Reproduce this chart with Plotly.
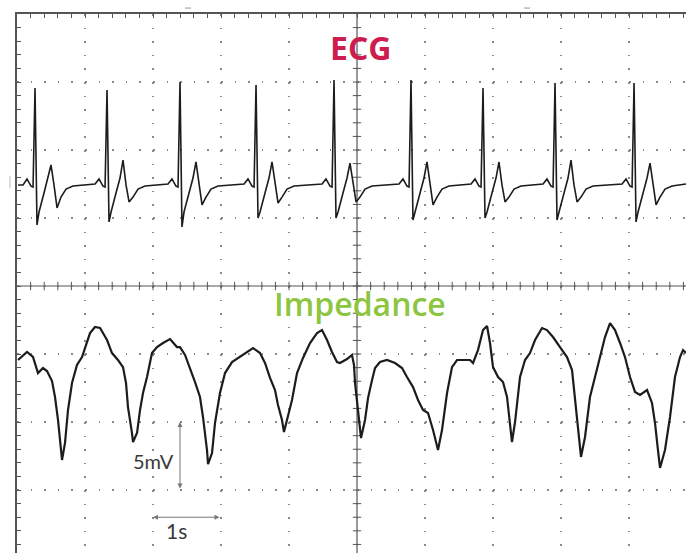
import numpy as np
import plotly.graph_objects as go

# ---- data (time in s, amplitude in mV; 1 div = 1 s horizontally, 5 mV vertically) ----
ecg_t = [0.015, 0.089, 0.147, 0.206, 0.236, 0.265, 0.294, 0.324, 0.397, 0.456, 0.500, 0.544, 0.589, 0.647, 0.721, 0.824,
         1.148, 1.206, 1.265, 1.295, 1.324, 1.353, 1.383, 1.456, 1.515, 1.559, 1.603, 1.648, 1.706, 1.780, 1.883,
         2.221, 2.279, 2.338, 2.368, 2.397, 2.426, 2.456, 2.529, 2.588, 2.632, 2.676, 2.721, 2.779, 2.853, 2.956,
         3.339, 3.397, 3.456, 3.486, 3.515, 3.544, 3.574, 3.647, 3.706, 3.750, 3.794, 3.839, 3.897, 3.971, 4.074,
         4.486, 4.544, 4.603, 4.633, 4.662, 4.691, 4.721, 4.794, 4.853, 4.897, 4.941, 4.986, 5.044, 5.118, 5.221,
         5.618, 5.676, 5.735, 5.765, 5.794, 5.823, 5.853, 5.926, 5.985, 6.029, 6.073, 6.118, 6.176, 6.250, 6.353,
         6.677, 6.735, 6.794, 6.824, 6.853, 6.882, 6.912, 6.985, 7.044, 7.088, 7.132, 7.177, 7.235, 7.309, 7.412,
         7.736, 7.794, 7.853, 7.883, 7.912, 7.941, 7.971, 8.044, 8.103, 8.147, 8.191, 8.236, 8.294, 8.368, 8.471,
         8.898, 8.956, 9.015, 9.045, 9.074, 9.103, 9.133, 9.206, 9.265, 9.309, 9.353, 9.398, 9.456, 9.530, 9.633,
         9.838]
ecg_v = [7.43, 7.43, 7.87, 7.35, 7.28, 14.56, 4.49, 5.44, 6.84, 7.94, 8.90, 7.43, 5.74, 6.54, 7.13, 7.35,
         7.50, 7.87, 7.35, 7.28, 14.41, 4.71, 5.44, 6.84, 7.94, 9.26, 7.43, 6.18, 6.54, 7.13, 7.35,
         7.50, 7.87, 7.35, 7.28, 15.00, 4.34, 5.44, 6.84, 7.94, 9.12, 7.43, 5.96, 6.54, 7.13, 7.35,
         7.50, 7.87, 7.35, 7.28, 14.78, 5.00, 5.44, 6.84, 7.94, 9.12, 7.43, 6.10, 6.54, 7.13, 7.35,
         7.50, 7.87, 7.35, 7.28, 15.15, 5.00, 5.44, 6.84, 7.94, 9.04, 7.43, 6.18, 6.54, 7.13, 7.35,
         7.50, 7.87, 7.35, 7.28, 15.15, 4.85, 5.44, 6.84, 7.94, 9.12, 7.43, 5.96, 6.54, 7.13, 7.35,
         7.50, 7.87, 7.35, 7.28, 14.56, 5.00, 5.44, 6.84, 7.94, 9.12, 7.43, 6.18, 6.54, 7.13, 7.35,
         7.50, 7.87, 7.35, 7.28, 14.93, 4.85, 5.44, 6.84, 7.94, 9.26, 7.43, 6.18, 6.54, 7.13, 7.35,
         7.50, 7.87, 7.35, 7.28, 14.93, 4.71, 5.44, 6.84, 7.94, 9.04, 7.43, 5.96, 6.54, 7.13, 7.35,
         7.50]

imp_t = [0.015, 0.074, 0.147, 0.235, 0.309, 0.382, 0.441, 0.515, 0.559, 0.603, 0.662, 0.706, 0.750, 0.809, 0.882,
         0.956, 1.029, 1.074, 1.147, 1.221, 1.324, 1.397, 1.485, 1.559, 1.603, 1.632, 1.691, 1.706, 1.765, 1.809,
         1.853, 1.912, 1.985, 2.059, 2.147, 2.250, 2.353, 2.397, 2.471, 2.544, 2.618, 2.691, 2.735, 2.794, 2.809,
         2.868, 2.912, 2.985, 3.059, 3.162, 3.279, 3.382, 3.471, 3.574, 3.647, 3.721, 3.794, 3.838, 3.897, 3.926,
         3.985, 4.044, 4.118, 4.206, 4.309, 4.412, 4.485, 4.559, 4.632, 4.706, 4.750, 4.853, 4.926, 4.956, 4.971,
         5.015, 5.059, 5.118, 5.162, 5.221, 5.265, 5.338, 5.441, 5.559, 5.662, 5.735, 5.824, 5.897, 5.971, 6.044,
         6.118, 6.191, 6.250, 6.324, 6.397, 6.471, 6.559, 6.662, 6.706, 6.779, 6.853, 6.912, 6.956, 7.000, 7.074,
         7.147, 7.206, 7.250, 7.279, 7.324, 7.353, 7.397, 7.471, 7.544, 7.618, 7.721, 7.794, 7.882, 7.985, 8.088,
         8.162, 8.206, 8.250, 8.294, 8.353, 8.426, 8.500, 8.574, 8.647, 8.721, 8.794, 8.868, 8.941, 9.015, 9.088,
         9.162, 9.265, 9.338, 9.382, 9.426, 9.456, 9.529, 9.603, 9.676, 9.750, 9.794, 9.838]
imp_v = [-5.44, -5.15, -4.85, -5.22, -6.40, -6.03, -6.25, -6.99, -8.16, -9.85, -12.79, -11.54, -9.12, -7.13, -5.81,
         -5.22, -4.19, -3.46, -3.01, -3.09, -3.97, -4.93, -5.44, -5.96, -7.13, -8.90, -10.81, -11.47, -10.81, -9.12,
         -7.87, -6.69, -4.93, -4.49, -4.19, -3.90, -4.49, -4.49, -5.07, -6.03, -7.06, -8.16, -9.63, -12.06, -13.09,
         -12.28, -10.07, -7.87, -6.40, -5.59, -5.22, -4.85, -4.56, -4.93, -5.66, -6.76, -7.65, -8.75, -9.85, -10.74,
         -9.63, -8.38, -6.40, -5.29, -4.19, -3.46, -3.24, -3.97, -4.85, -5.59, -5.66, -5.37, -5.07, -5.81, -7.13,
         -9.12, -11.18, -9.85, -8.24, -6.91, -6.03, -5.59, -5.44, -5.66, -6.03, -6.69, -7.43, -8.38, -9.12, -9.34,
         -10.59, -12.06, -10.59, -7.87, -5.96, -5.44, -5.44, -5.44, -5.66, -4.71, -3.24, -2.94, -4.19, -5.96, -6.69,
         -7.06, -8.16, -10.07, -11.47, -10.00, -8.60, -6.69, -5.44, -4.93, -3.97, -3.09, -3.24, -3.75, -4.49, -5.22,
         -6.18, -8.16, -10.37, -12.57, -11.10, -8.16, -6.69, -5.22, -3.75, -2.72, -3.24, -4.19, -5.22, -6.69, -7.79,
         -8.01, -7.65, -8.60, -10.07, -12.06, -13.38, -12.06, -9.63, -6.69, -5.22, -4.71, -4.93]

# screen geometry (divisions)
x_range = [0, 9.838]
y_range = [-19.63, 20]
centre_t = 5
centre_v = 0
minor_t = np.arange(0.2, 9.81, 0.2)
minor_v = np.arange(-19, 20, 1)

TRACE = "#1c1c1c"
GRID = "#8a8a8a"
FRAME = "#555555"

fig = go.Figure()

# centre cross-hair tick marks
fig.add_trace(go.Scatter(x=minor_t, y=np.full(len(minor_t), centre_v), mode="markers",
                         marker=dict(symbol="line-ns-open", size=6, color=FRAME,
                                     line=dict(width=1, color=FRAME)),
                         hoverinfo="skip"))
fig.add_trace(go.Scatter(x=np.full(len(minor_v), centre_t), y=minor_v, mode="markers",
                         marker=dict(symbol="line-ew-open", size=6, color=FRAME,
                                     line=dict(width=1, color=FRAME)),
                         hoverinfo="skip"))

fig.add_trace(go.Scatter(x=ecg_t, y=ecg_v, mode="lines", line=dict(color=TRACE, width=1.6), name="ECG"))
fig.add_trace(go.Scatter(x=imp_t, y=imp_v, mode="lines", line=dict(color=TRACE, width=2.2), name="Impedance"))

# centre lines
fig.add_shape(type="line", x0=centre_t, x1=centre_t, y0=y_range[0], y1=y_range[1],
              line=dict(color=FRAME, width=1.2), layer="below")
fig.add_shape(type="line", x0=x_range[0], x1=x_range[1], y0=centre_v, y1=centre_v,
              line=dict(color=FRAME, width=1.2), layer="below")

# small marks outside the screen
fig.add_shape(type="line", xref="paper", yref="paper", x0=0.251, x1=0.260, y0=1.011, y1=1.011,
              line=dict(color="#999", width=1))
fig.add_shape(type="line", xref="paper", yref="paper", x0=0.758, x1=0.767, y0=1.011, y1=1.011,
              line=dict(color="#999", width=1))
fig.add_shape(type="line", xref="paper", yref="paper", x0=-0.0105, x1=-0.0105, y0=0.677, y1=0.699,
              line=dict(color="#bbb", width=1))

# labels
fig.add_annotation(x=5.05, y=17.57, text="<b>ECG</b>", showarrow=False, xanchor="center", yanchor="middle",
                   font=dict(family="Open Sans", size=32, color="#cc1d4e"))
fig.add_annotation(x=5.04, y=-1.32, text="Impedance", showarrow=False, xanchor="center", yanchor="middle",
                   font=dict(family="Open Sans", size=32, color="#8cc540", weight=600))
fig.add_annotation(x=2.0, y=-12.87, text="5mV", showarrow=False, xanchor="center", yanchor="middle",
                   font=dict(family="Lato", size=20, color="#3a3a3a"))
fig.add_annotation(x=2.35, y=-17.94, text="1s", showarrow=False, xanchor="center", yanchor="middle",
                   font=dict(family="Lato", size=21, color="#3a3a3a"))
# scale arrows
fig.add_annotation(x=2.397, y=-10, ax=2.397, ay=-15, axref="x", ayref="y", xref="x", yref="y", text="",
                   showarrow=True, arrowhead=2, arrowside="end+start", arrowsize=1, arrowwidth=1, arrowcolor="#777")
fig.add_annotation(x=2.0, y=-17, ax=3.0, ay=-17, axref="x", ayref="y", xref="x", yref="y", text="",
                   showarrow=True, arrowhead=2, arrowside="end+start", arrowsize=1, arrowwidth=1, arrowcolor="#777")

fig.update_xaxes(range=x_range, side="top", showline=True, linewidth=2, linecolor=FRAME,
                 ticks="inside", ticklen=4, tickcolor=FRAME, tickwidth=1, dtick=1, tick0=0,
                 showticklabels=False, showgrid=True, gridcolor=GRID, griddash="1.5px,12.1px", gridwidth=1.5,
                 zeroline=False,
                 minor=dict(dtick=0.2, tick0=0, ticks="inside", ticklen=4, tickcolor=FRAME, showgrid=False))
fig.update_yaxes(range=y_range, side="left", showline=True, linewidth=2, linecolor=FRAME,
                 ticks="inside", ticklen=4, tickcolor=FRAME, tickwidth=1, dtick=5, tick0=0,
                 showticklabels=False, showgrid=True, gridcolor=GRID, griddash="1.5px,12.1px", gridwidth=1.5,
                 zeroline=False,
                 minor=dict(dtick=1, tick0=0, ticks="inside", ticklen=4, tickcolor=FRAME, showgrid=False))

fig.update_layout(width=686, height=553, margin=dict(l=17, r=0, t=14, b=0),
                  paper_bgcolor="white", plot_bgcolor="white", showlegend=False)

fig.write_html("out.html")
